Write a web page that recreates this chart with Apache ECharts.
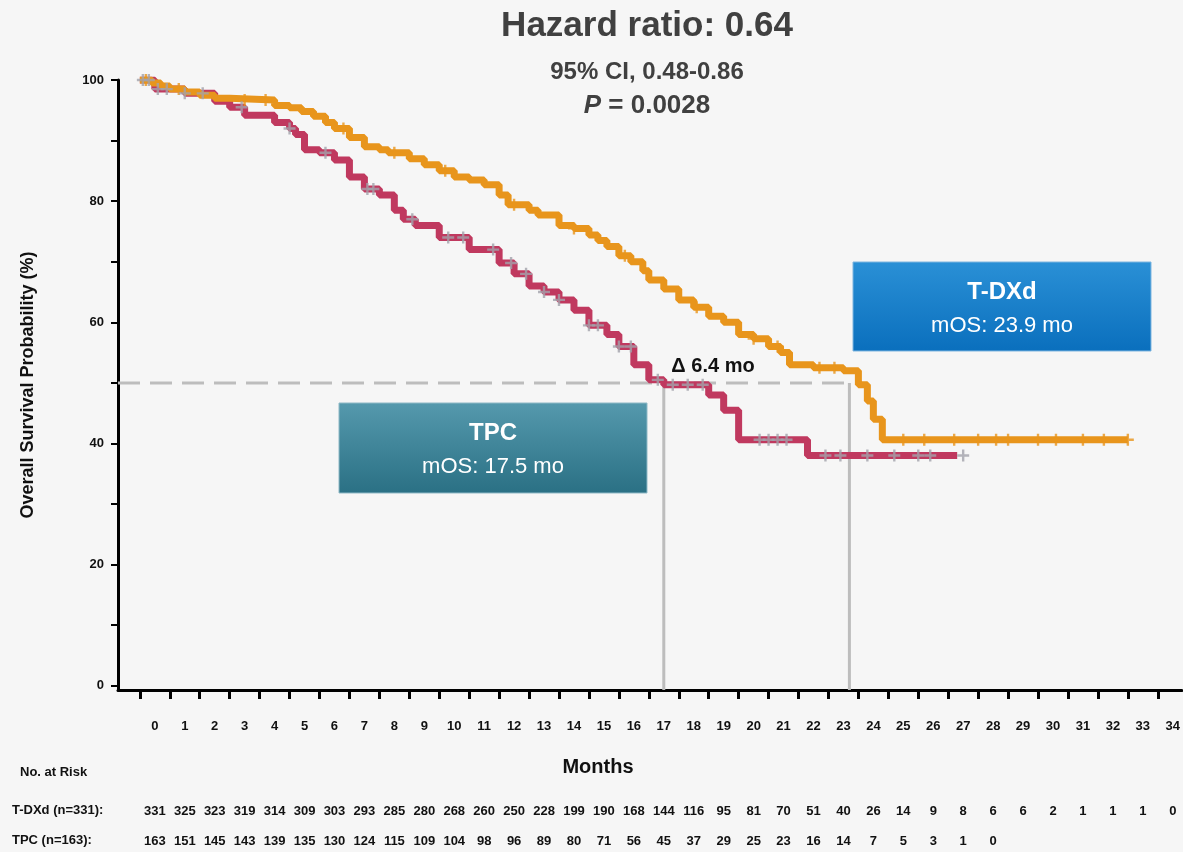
<!DOCTYPE html>
<html>
<head>
<meta charset="utf-8">
<script src="https://cdn.jsdelivr.net/npm/echarts@6/dist/echarts.min.js"></script>
<style>
html,body{margin:0;padding:0;background:#f6f6f6;}
#main{width:1183px;height:852px;}
</style>
</head>
<body>
<div id="main"></div>
<script>
// step points [month, survival %]
var tdxdCurve = [[0,100],[0.4,99.5],[0.7,99],[1,98.5],[1.5,98],[2,97.5],[2.5,97],[3,96.7],[4.5,95.8],[5,95.4],[5.4,94.8],[5.8,94],[6.2,93],[6.5,92],[7,90.5],[7.5,89],[8,88.5],[8.3,88],[9,87],[9.5,86],[10,85],[10.5,84],[11,83.5],[11.5,82.7],[12,81],[12.3,79.4],[13,78.5],[13.3,77.7],[14,76],[14.5,75.5],[15,74.4],[15.3,73.5],[15.6,72.5],[16,71],[16.4,70],[16.8,68.5],[17,67],[17.5,65.5],[18,63.7],[18.5,62.5],[19,61],[19.5,60],[20,58],[20.5,57.3],[21,56],[21.4,55],[21.7,53],[22.5,52.5],[23.5,52],[24,49.7],[24.3,47],[24.5,44],[24.8,40.6],[33,40.6]];
var tpcCurve = [[0,100],[0.5,98.5],[1.5,97.8],[2.5,96.5],[3,95.5],[3.5,94.2],[4.5,93],[5,92],[5.2,91],[5.5,88.5],[6,88],[6.5,86.8],[7,84],[7.5,82],[8,81],[8.5,78.5],[8.8,77],[9.2,76],[10,74],[11,72],[12,69.8],[12.5,68],[13,66],[13.5,65],[14,63.7],[14.5,62],[15,59.5],[15.6,58],[16,56],[16.5,53],[17,50.5],[17.5,49.7],[19,48],[19.5,45.5],[20,40.6],[22.3,38],[27.3,38]];
var tdxdCensor = [0.2,1.3,3.5,4.2,6.8,8.5,10.2,12.5,14.5,16.2,18.6,20.5,21.3,22.7,23.2,25.5,26.2,27.2,28,28.6,29,30,30.6,31.5,32.2,33];
var tpcCensor = [0.1,0.3,0.6,0.9,1.5,2.1,3.4,5,6.2,7.6,7.8,9.1,10.3,10.8,11.8,12.4,12.9,13.5,14,15,15.3,16,16.4,17.3,17.8,18.3,18.8,20.7,21,21.3,21.6,22.9,23.4,24.3,25.2,26,26.4,27.5];
var months = [];
for (var i = 0; i <= 34; i++) months.push(i);
var yTicks = [0,20,40,60,80,100];
var yTicksAll = [0,10,20,30,40,50,60,70,80,90,100];
var riskTdxd = [331,325,323,319,314,309,303,293,285,280,268,260,250,228,199,190,168,144,116,95,81,70,51,40,26,14,9,8,6,6,2,1,1,1,0];
var riskTpc = [163,151,145,143,139,135,130,124,115,109,104,98,96,89,80,71,56,45,37,29,25,23,16,14,7,5,3,1,0];
var medianTpc = 17.5, medianTdxd = 23.7;

function survAt(curve, t){
    var v = curve[0][1];
    for (var i = 0; i < curve.length; i++){ if (curve[i][0] <= t) v = curve[i][1]; }
    return v;
}
var plus = 'path://M4,0 L6,0 L6,4 L10,4 L10,6 L6,6 L6,10 L4,10 L4,6 L0,6 L0,4 L4,4 Z';

var chart = echarts.init(document.getElementById('main'));
chart.setOption({
    animation:false,
    backgroundColor:'#f6f6f6',
    grid:{left:118,right:0,top:80,bottom:162},
    xAxis:{type:'value',min:-0.73,max:34.8,
        axisLine:{onZero:false,lineStyle:{color:'#000',width:3}},
        axisTick:{customValues:months,length:9,lineStyle:{color:'#000',width:3}},
        axisLabel:{customValues:months,margin:30,padding:[0,0,0,30],fontSize:13,fontWeight:'bold',color:'#111',fontFamily:'Liberation Sans, Arial'},
        splitLine:{show:false}},
    yAxis:{type:'value',min:-0.7,max:100,
        axisLine:{show:true,onZero:false,lineStyle:{color:'#000',width:3}},
        axisTick:{customValues:yTicksAll,length:7,lineStyle:{color:'#000',width:2}},
        axisLabel:{customValues:yTicks,fontSize:13,fontWeight:'bold',color:'#111',margin:14,fontFamily:'Liberation Sans, Arial'},
        splitLine:{show:false}},
    series:[
        {type:'line',data:[[-0.73,50],[medianTdxd,50]],symbol:'none',lineStyle:{color:'#bdbdbd',width:3,type:[22,10]},z:1},
        {type:'line',data:[[medianTpc,50],[medianTpc,-0.7]],symbol:'none',lineStyle:{color:'#bdbdbd',width:3},z:1},
        {type:'line',data:[[medianTdxd,50],[medianTdxd,-0.7]],symbol:'none',lineStyle:{color:'#bdbdbd',width:3},z:1},
        {type:'line',step:'end',data:tdxdCurve,symbol:'none',lineStyle:{color:'#e8951c',width:7},z:3},
        {type:'line',step:'end',data:tpcCurve,symbol:'none',lineStyle:{color:'#c0395f',width:7},z:2},
        {type:'scatter',data:tdxdCensor.map(function(t){return [t,survAt(tdxdCurve,t)];}),symbol:plus,symbolSize:12,itemStyle:{color:'#e8951c'},z:4},
        {type:'scatter',data:tpcCensor.map(function(t){return [t,survAt(tpcCurve,t)];}),symbol:plus,symbolSize:12,itemStyle:{color:'#a3a3ab'},z:4}
    ]
});

var g = [
    {type:'text',x:647,y:26,style:{text:'Hazard ratio: 0.64',font:'bold 35px Liberation Sans, Arial',fill:'#404040',align:'center',verticalAlign:'middle'}},
    {type:'text',x:647,y:72,style:{text:'95% CI, 0.48-0.86',font:'bold 24px Liberation Sans, Arial',fill:'#404040',align:'center',verticalAlign:'middle'}},
    {type:'text',x:647,y:106,style:{rich:{i:{font:'italic bold 26px Liberation Sans, Arial',fill:'#404040'},n:{font:'bold 26px Liberation Sans, Arial',fill:'#404040'}},text:'{i|P}{n| = 0.0028}',align:'center',verticalAlign:'middle'}},
    {type:'text',x:713,y:366,style:{text:'Δ 6.4 mo',font:'bold 20px Liberation Sans, Arial',fill:'#111',align:'center',verticalAlign:'middle'}},
    {type:'text',x:28,y:385,rotation:Math.PI/2,style:{text:'Overall Survival Probability (%)',font:'bold 18px Liberation Sans, Arial',fill:'#111',align:'center',verticalAlign:'middle'}},
    {type:'text',x:598,y:767,style:{text:'Months',font:'bold 20px Liberation Sans, Arial',fill:'#111',align:'center',verticalAlign:'middle'}},
    {type:'text',left:20,top:766,style:{text:'No. at Risk',font:'bold 13px Liberation Sans, Arial',fill:'#111'}},
    {type:'text',left:12,top:804,style:{text:'T-DXd (n=331):',font:'bold 13px Liberation Sans, Arial',fill:'#111'}},
    {type:'text',left:12,top:834,style:{text:'TPC (n=163):',font:'bold 13px Liberation Sans, Arial',fill:'#111'}},
    {type:'rect',shape:{x:853,y:262,width:298,height:89},style:{fill:new echarts.graphic.LinearGradient(0,0,0,1,[{offset:0,color:'#2a90d6'},{offset:1,color:'#0a6fbd'}]),stroke:'#7fb6e0',lineWidth:1}},
    {type:'text',x:1002,y:292,style:{text:'T-DXd',font:'bold 24px Liberation Sans, Arial',fill:'#fff',align:'center',verticalAlign:'middle'}},
    {type:'text',x:1002,y:326,style:{text:'mOS: 23.9 mo',font:'22px Liberation Sans, Arial',fill:'#fff',align:'center',verticalAlign:'middle'}},
    {type:'rect',shape:{x:339,y:403,width:308,height:90},style:{fill:new echarts.graphic.LinearGradient(0,0,0,1,[{offset:0,color:'#5599ad'},{offset:1,color:'#2a7084'}]),stroke:'#8fb9c6',lineWidth:1}},
    {type:'text',x:493,y:433,style:{text:'TPC',font:'bold 24px Liberation Sans, Arial',fill:'#fff',align:'center',verticalAlign:'middle'}},
    {type:'text',x:493,y:467,style:{text:'mOS: 17.5 mo',font:'22px Liberation Sans, Arial',fill:'#fff',align:'center',verticalAlign:'middle'}}
];
function addRow(arr, y){
    arr.forEach(function(v, k){
        var px = chart.convertToPixel({gridIndex:0}, [k, 0])[0] + 15;
        g.push({type:'text',x:px,y:y,style:{text:String(v),font:'bold 13px Liberation Sans, Arial',fill:'#111',align:'center',verticalAlign:'middle'}});
    });
}
addRow(riskTdxd, 811);
addRow(riskTpc, 841);
chart.setOption({graphic:g});
</script>
</body>
</html>
